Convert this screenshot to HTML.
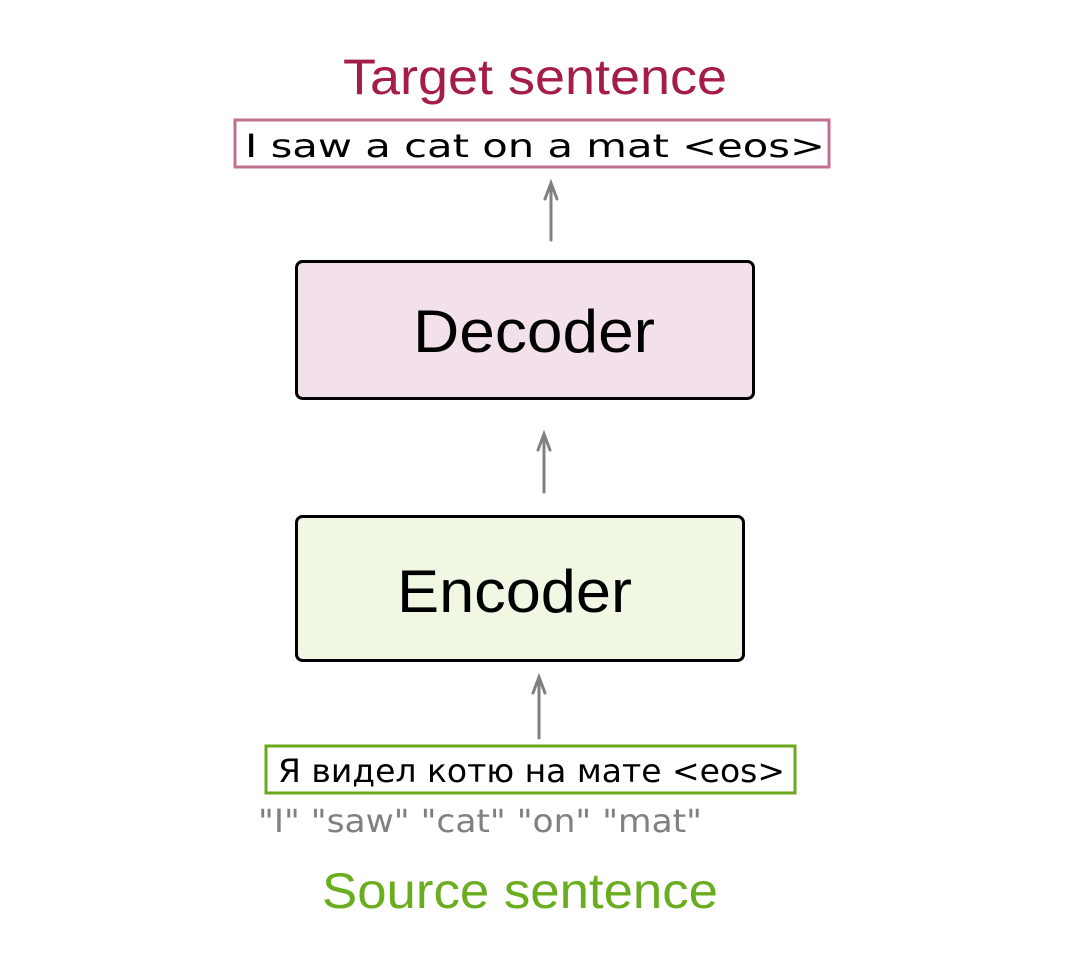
<!DOCTYPE html>
<html><head><meta charset="utf-8"><style>html,body{margin:0;padding:0;background:#fff;}svg{display:block}</style></head>
<body>
<svg width="1076" height="980" xmlns="http://www.w3.org/2000/svg">
<text x="343" y="94" font-family="Liberation Sans, sans-serif" font-size="50" fill="#a51c48" textLength="384" lengthAdjust="spacingAndGlyphs">Target sentence</text>
<rect x="235" y="120" width="594" height="47" fill="#fff" stroke="#c0718f" stroke-width="3"/>
<text x="245" y="157" font-family="DejaVu Sans, sans-serif" font-size="32" fill="#000" textLength="580" lengthAdjust="spacingAndGlyphs">I  saw a  cat  on  a  mat &lt;eos&gt;</text>
<g stroke="#808080" stroke-width="3" fill="none" stroke-linecap="round">
<line x1="551" y1="240" x2="551" y2="184"/><path d="M545,199 L551,183 L557,199"/>
<line x1="544" y1="492" x2="544" y2="435"/><path d="M538,450 L544,434 L550,450"/>
<line x1="539" y1="738" x2="539" y2="678"/><path d="M533,693 L539,677 L545,693"/>
</g>
<rect x="296.5" y="261.5" width="457" height="137" rx="6" fill="#f2e1ea" stroke="#000" stroke-width="3"/>
<text x="413" y="352" font-family="Liberation Sans, sans-serif" font-size="60" fill="#000" textLength="242" lengthAdjust="spacingAndGlyphs">Decoder</text>
<rect x="296.5" y="516.5" width="447" height="144" rx="6" fill="#f0f8e4" stroke="#000" stroke-width="3"/>
<text x="397" y="612" font-family="Liberation Sans, sans-serif" font-size="60" fill="#000" textLength="235" lengthAdjust="spacingAndGlyphs">Encoder</text>
<rect x="266" y="746" width="529" height="47" fill="#fff" stroke="#6aaa1a" stroke-width="3"/>
<text x="278" y="782" font-family="DejaVu Sans, sans-serif" font-size="32" fill="#000" textLength="507" lengthAdjust="spacingAndGlyphs">Я видел котю на мате &lt;eos&gt;</text>
<text x="258" y="832" font-family="DejaVu Sans, sans-serif" font-size="32" fill="#808080" textLength="444" lengthAdjust="spacingAndGlyphs">"I" "saw"  "cat" "on" "mat"</text>
<text x="322" y="908" font-family="Liberation Sans, sans-serif" font-size="50" fill="#6aad1f" textLength="396" lengthAdjust="spacingAndGlyphs">Source sentence</text>
</svg>
</body></html>
